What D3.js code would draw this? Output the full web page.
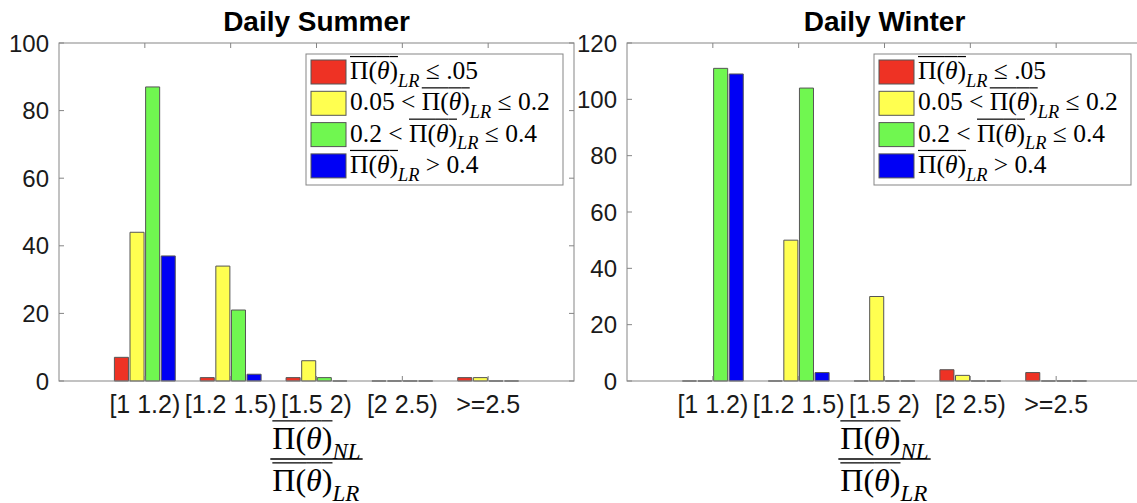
<!DOCTYPE html>
<html lang="en">
<head>
<meta charset="utf-8">
<title>Daily Summer / Daily Winter</title>
<script src="https://d3js.org/d3.v7.min.js"></script>
<style>
  body { margin: 0; background: #fff; }
  svg { display: block; }
</style>
</head>
<body>
<svg id="chart" width="1137" height="503"></svg>
<script>
// bins of the ratio NL/LR
const categories = ["[1 1.2)", "[1.2 1.5)", "[1.5 2)", "[2 2.5)", ">=2.5"];
const seriesNames = ["le05", "b05_02", "b02_04", "gt04"];
const seriesColors = ["#ee3224", "#ffff50", "#70f750", "#0000f5"];

// counts per bin, one array per class of mean LR
const summerLe05 = [7, 1, 1, 0, 1];
const summer05to02 = [44, 34, 6, 0, 1];
const summer02to04 = [87, 21, 1, 0, 0];
const summerGt04 = [37, 2, 0, 0, 0];

const winterLe05 = [0, 0, 0, 4, 3];
const winter05to02 = [0, 50, 30, 2, 0];
const winter02to04 = [111, 104, 0, 0, 0];
const winterGt04 = [109, 3, 0, 0, 0];

const summerTicks = [0, 20, 40, 60, 80, 100];
const winterTicks = [0, 20, 40, 60, 80, 100, 120];

const panels = [
  { title: "Daily Summer", left: 59, series: [summerLe05, summer05to02, summer02to04, summerGt04], ymax: 100, ticks: summerTicks },
  { title: "Daily Winter", left: 627, series: [winterLe05, winter05to02, winter02to04, winterGt04], ymax: 120, ticks: winterTicks }
];

const svg = d3.select("#chart");
const plotW = 515, plotTop = 43, plotBottom = 381;
const axisColor = "#858585", textColor = "#1a1a1a";
const sans = "'Liberation Sans', Arial, Helvetica, sans-serif";
const serif = "'Liberation Serif', 'Times New Roman', serif";

// draws a row of math-ish pieces; returns its width
function mathRow(g, x0, y, size, parts, measureOnly) {
  let x = x0;
  const tmp = g.append("g");
  parts.forEach(p => {
    const fs = p.sub ? size * 0.72 : size;
    const t = tmp.append("text")
      .attr("x", x)
      .attr("y", p.sub ? y + size * 0.3 : y)
      .attr("font-family", serif)
      .attr("font-size", fs)
      .attr("font-style", p.it ? "italic" : "normal")
      .attr("fill", "#000")
      .attr("xml:space", "preserve")
      .text(p.t);
    const w = t.node().getComputedTextLength();
    if (p.over) {
      tmp.append("line")
        .attr("x1", x).attr("x2", x + w)
        .attr("y1", y - size * 0.88).attr("y2", y - size * 0.88)
        .attr("stroke", "#000").attr("stroke-width", 1.2);
    }
    x += w;
  });
  if (measureOnly) tmp.remove();
  return x - x0;
}

function piPart(sub) {
  return [
    { t: "Π(", over: true },
    { t: "θ", it: true, over: true },
    { t: ")", over: true },
    { t: sub, it: true, sub: true }
  ];
}

const legendRows = [
  [...piPart("LR"), { t: " ≤ .05" }],
  [{ t: "0.05 < " }, ...piPart("LR"), { t: " ≤ 0.2" }],
  [{ t: "0.2 < " }, ...piPart("LR"), { t: " ≤ 0.4" }],
  [...piPart("LR"), { t: " > 0.4" }]
];

panels.forEach(p => {
  const g = svg.append("g");
  const x = d3.scaleLinear().domain([0, 6]).range([p.left, p.left + plotW]);
  const y = d3.scaleLinear().domain([0, p.ymax]).range([plotBottom, plotTop]);
  const groupW = 4 / 5.5;
  const inner = d3.scaleBand().domain(seriesNames).range([-groupW / 2, groupW / 2]).paddingInner(0.1).paddingOuter(0.05);

  // bars (zero bars show as a flat edge on the baseline, like MATLAB)
  p.series.forEach((vals, si) => {
    g.append("g").selectAll("path")
      .data(vals.map((v, i) => ({ v, i })))
      .join("path")
      .attr("d", d => {
        const x0 = x(d.i + 1 + inner(seriesNames[si]));
        const x1 = x0 + (x(inner.bandwidth()) - x(0));
        const y0 = y(0), y1 = y(d.v);
        return `M${x0},${y0}V${y1}H${x1}V${y0}Z`;
      })
      .attr("fill", seriesColors[si])
      .attr("stroke", "#555")
      .attr("stroke-width", 1);
  });

  // box
  g.append("rect")
    .attr("x", p.left).attr("y", plotTop)
    .attr("width", plotW).attr("height", plotBottom - plotTop)
    .attr("fill", "none").attr("stroke", axisColor).attr("stroke-width", 1);

  // y ticks
  p.ticks.forEach(t => {
    g.append("line").attr("x1", p.left).attr("x2", p.left + 5)
      .attr("y1", y(t)).attr("y2", y(t)).attr("stroke", axisColor);
    g.append("line").attr("x1", p.left + plotW).attr("x2", p.left + plotW - 5)
      .attr("y1", y(t)).attr("y2", y(t)).attr("stroke", axisColor);
    g.append("text").attr("x", p.left - 10).attr("y", y(t) + 8.5)
      .attr("text-anchor", "end").attr("font-family", sans).attr("font-size", 24)
      .attr("fill", textColor).text(t);
  });

  // x ticks
  categories.forEach((c, i) => {
    const cx = x(i + 1);
    g.append("line").attr("x1", cx).attr("x2", cx).attr("y1", plotBottom).attr("y2", plotBottom - 5).attr("stroke", axisColor);
    g.append("line").attr("x1", cx).attr("x2", cx).attr("y1", plotTop).attr("y2", plotTop + 5).attr("stroke", axisColor);
    g.append("text").attr("x", cx).attr("y", 413)
      .attr("text-anchor", "middle").attr("font-family", sans).attr("font-size", 25)
      .attr("fill", textColor).text(c);
  });

  // title
  const mid = p.left + plotW / 2;
  g.append("text").attr("x", mid).attr("y", 31)
    .attr("text-anchor", "middle").attr("font-family", sans).attr("font-weight", "bold")
    .attr("font-size", 28).attr("fill", "#000").text(p.title);

  // x label: fraction
  const fs = 32;
  const numParts = piPart("NL"), denParts = piPart("LR");
  const wn = mathRow(g, 0, 0, fs, numParts, true);
  const wd = mathRow(g, 0, 0, fs, denParts, true);
  const fw = Math.max(wn, wd) + 4;
  mathRow(g, mid - fw / 2 + 2, 449, fs, numParts);
  g.append("line").attr("x1", mid - fw / 2).attr("x2", mid + fw / 2)
    .attr("y1", 459).attr("y2", 459).attr("stroke", "#000").attr("stroke-width", 1.3);
  mathRow(g, mid - fw / 2 + 2, 491, fs, denParts);

  // legend
  const lx = p.left + 247, ly = 54;
  const lg = g.append("g");
  lg.append("rect").attr("x", lx).attr("y", ly).attr("width", 257).attr("height", 131)
    .attr("fill", "#fff").attr("stroke", axisColor).attr("stroke-width", 1);
  legendRows.forEach((row, ri) => {
    const ry = ly + 6 + ri * 31.3;
    lg.append("rect").attr("x", lx + 5).attr("y", ry).attr("width", 35).attr("height", 24)
      .attr("fill", seriesColors[ri]).attr("stroke", "#555");
    mathRow(lg, lx + 44, ry + 19, 25.5, row);
  });
});
</script>
</body>
</html>
